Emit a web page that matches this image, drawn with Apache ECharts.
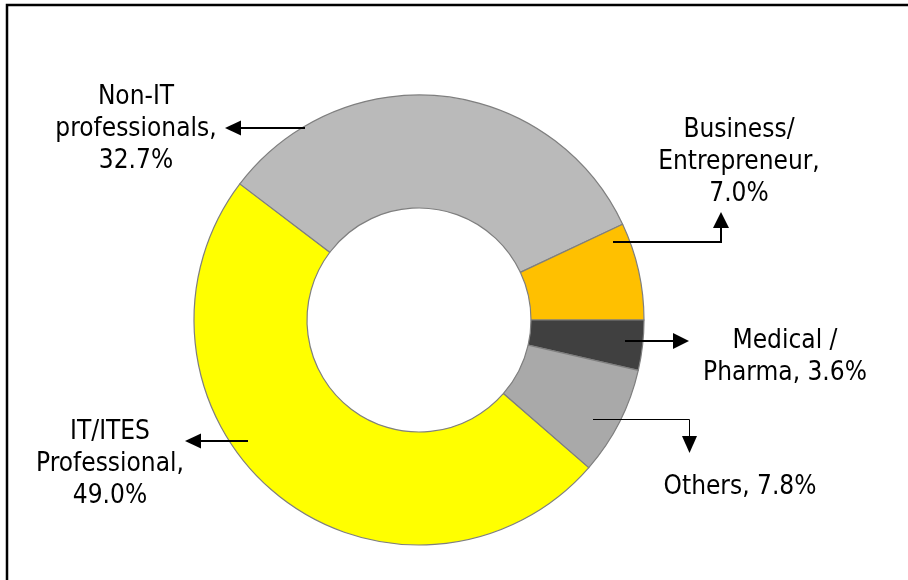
<!DOCTYPE html>
<html>
<head>
<meta charset="utf-8">
<style>
  html, body { margin: 0; padding: 0; background: #ffffff; }
  #chart { width: 908px; height: 580px; }
</style>
<script src="https://cdn.jsdelivr.net/npm/echarts@6/dist/echarts.min.js"></script>
</head>
<body>
<div id="chart"></div>
<script>
// Occupation split of respondents (percent)
const categories = ['IT/ITES Professional', 'Non-IT professionals', 'Business/ Entrepreneur', 'Medical / Pharma', 'Others'];
const labelNames = ['IT/ITES\nProfessional,', 'Non-IT\nprofessionals,', 'Business/\nEntrepreneur,', 'Medical /\nPharma,', 'Others,'];
const shares = [49.0, 32.7, 7.0, 3.6, 7.8];
const sliceColors = ['#FFFF00', '#BABABA', '#FFC000', '#404040', '#A9A9A9'];

// label block centres (px) and whether the value sits on the same line
const labelSpots = [[110, 464], [136, 129], [739, 162], [785, 357], [740, 487]];
const valueInline = [false, false, false, true, true];

// the donut starts where the last two slices end, measured clockwise from 3 o'clock
const total = shares.reduce((a, b) => a + b, 0);
const startAngle = -(shares[3] + shares[4]) / total * 360;

const chart = echarts.init(document.getElementById('chart'), null, { renderer: 'canvas' });

function arrowHead(tip, dir, len, half) {
  // dir: unit vector the arrow points along
  const bx = tip[0] - dir[0] * len, by = tip[1] - dir[1] * len;
  const px = -dir[1] * half, py = dir[0] * half;
  return {
    type: 'polygon',
    shape: { points: [tip, [bx + px, by + py], [bx - px, by - py]] },
    style: { fill: '#000' },
    z: 10
  };
}
function leader(points, width) {
  return { type: 'polyline', shape: { points: points }, style: { stroke: '#000', lineWidth: width, fill: null }, z: 10 };
}

const graphics = [
  // outer frame
  { type: 'rect', shape: { x: 7, y: 5, width: 1000, height: 1000 }, style: { fill: null, stroke: '#000', lineWidth: 2.5 }, z: 0 },
  // Non-IT
  leader([[305, 128], [238, 128]], 2), arrowHead([225, 128], [-1, 0], 16, 7.5),
  // Business
  leader([[613, 242], [721, 242], [721, 226]], 2), arrowHead([721, 212], [0, -1], 16, 8),
  // Medical
  leader([[625, 341], [676, 341]], 2), arrowHead([689, 341], [1, 0], 16, 8),
  // Others
  leader([[593, 419.5], [689.5, 419.5], [689.5, 440]], 1), arrowHead([689.5, 453], [0, 1], 17, 7.5),
  // IT/ITES
  leader([[248, 441], [198, 441]], 2), arrowHead([185, 441], [-1, 0], 16, 7.5)
];

chart.setOption({
  animation: false,
  backgroundColor: '#ffffff',
  graphic: graphics,
  series: [{
    type: 'pie',
    center: [419, 320],
    radius: [112, 225],
    startAngle: startAngle,
    clockwise: true,
    avoidLabelOverlap: false,
    data: categories.map((c, i) => ({ name: c, value: shares[i], itemStyle: { color: sliceColors[i] } })),
    itemStyle: { borderColor: '#7f7f7f', borderWidth: 1.2 },
    emphasis: { disabled: true },
    label: {
      show: true,
      position: 'outside',
      formatter: p => labelNames[p.dataIndex] + (valueInline[p.dataIndex] ? ' ' : '\n') + shares[p.dataIndex].toFixed(1) + '%',
      fontFamily: '"DejaVu Sans Condensed", "Liberation Sans", sans-serif',
      fontSize: 26,
      lineHeight: 32,
      color: '#000',
      align: 'center'
    },
    labelLine: { show: false },
    labelLayout: p => ({
      x: labelSpots[p.dataIndex][0],
      y: labelSpots[p.dataIndex][1],
      align: 'center',
      verticalAlign: 'middle'
    })
  }]
});
</script>
</body>
</html>
